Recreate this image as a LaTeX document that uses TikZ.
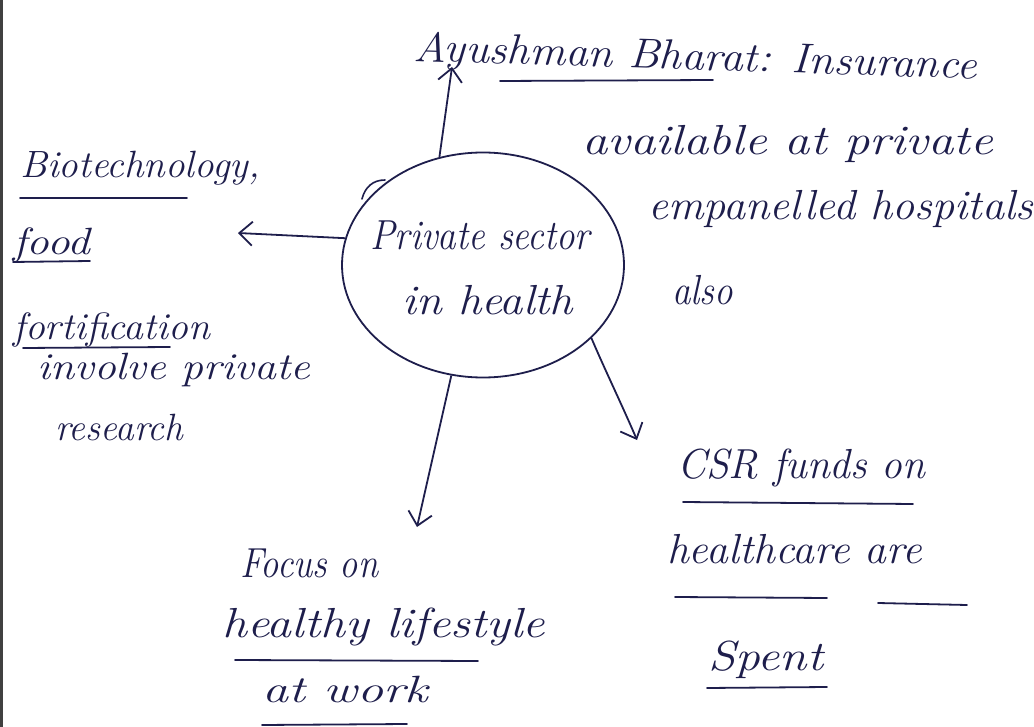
\documentclass[tikz,border=0pt]{standalone}
\usetikzlibrary{arrows.meta,shapes.geometric}
\definecolor{ink}{HTML}{1E1E4C}
\begin{document}
\begin{tikzpicture}[x=1pt,y=-1pt,
  txt/.style={anchor=base west,inner sep=0pt,text=ink,font=\fontsize{42}{46}\selectfont\itshape},
  txs/.style={txt,font=\fontsize{38}{42}\selectfont\itshape},
  ul/.style={draw=ink,line width=1.8pt,line cap=round},
  arr/.style={draw=ink,line width=1.8pt,-{Straight Barb[length=13pt,width=24pt,line width=1.8pt]}},
  hubstyle/.style={ellipse,draw=ink,line width=1.8pt,minimum width=282pt,minimum height=225pt,inner sep=0pt}]
\useasboundingbox (0,0) rectangle (1034,727);
\fill[white] (0,0) rectangle (1034,727);
\draw[line width=3pt,black!75] (1.5,0) -- (1.5,727);
% hub
\node[hubstyle] (hub) at (483,265) {};
\node[txt] (ps) at (370,250) {\resizebox{220pt}{\height}{Private sector}};
\node[txt] (ih) at (402,315) {\resizebox{171pt}{\height}{in health}};
\draw[ink,line width=1.6pt,line cap=round] (362,199) .. controls (365,187) and (373,180) .. (385,180);
% top branch
\node[txt,rotate=-1.8] (ab) at (413,61) {\resizebox{564pt}{\height}{Ayushman Bharat: Insurance}};
\node[txt] (av) at (582,155) {\resizebox{411pt}{\height}{available at private}};
\node[txt] (em) at (648,220) {\resizebox{385pt}{\height}{empanelled hospitals}};
\node[txt] (al) at (672,305) {\resizebox{61pt}{\height}{also}};
\draw[ul] (500,81) -- (713,80);
\coordinate (topend) at (452,67);
\draw[arr] (hub.112) -- (topend);
% left branch
\node[txs] (bio) at (20,178) {\resizebox{240pt}{\height}{Biotechnology,}};
\node[txs] (fo) at (13,255) {\resizebox{77pt}{\height}{food}};
\node[txs] (fort) at (13,340) {\resizebox{197pt}{\height}{fortification}};
\node[txs] (inv) at (37,380) {\resizebox{273pt}{\height}{involve private}};
\node[txs] (res) at (55,440) {\resizebox{128pt}{\height}{research}};
\draw[ul] (20,198) -- (187,198);
\draw[ul] (13,262) -- (90,261);
\draw[ul] (23,348) -- (170,347);
\coordinate (leftend) at (238,233);
\draw[arr] (hub.169) -- (leftend);
% bottom branch
\node[txt] (fc) at (240,577) {\resizebox{138pt}{\height}{Focus on}};
\node[txt] (hl) at (222,637) {\resizebox{323pt}{\height}{healthy lifestyle}};
\node[txs] (aw) at (262,702) {\resizebox{166pt}{\height}{at work}};
\draw[ul] (235,660) -- (478,661);
\draw[ul] (262,725) -- (407,724);
\coordinate (downend) at (417,527);
\draw[arr] (hub.254) -- (downend);
% right-down branch
\node[txt] (csr) at (677,478) {\resizebox{248pt}{\height}{CSR funds on}};
\node[txt] (hc) at (667,563) {\resizebox{255pt}{\height}{healthcare are}};
\node[txt] (sp) at (708,670) {\resizebox{115pt}{\height}{Spent}};
\draw[ul] (683,502) -- (913,504);
\draw[ul] (675,597) -- (827,598);
\draw[ul] (878,603) -- (967,605);
\draw[ul] (707,688) -- (827,687);
\coordinate (rightend) at (637,440);
\draw[arr] (hub.326) .. controls (605,370) and (622,405) .. (rightend);
\end{tikzpicture}
\end{document}
